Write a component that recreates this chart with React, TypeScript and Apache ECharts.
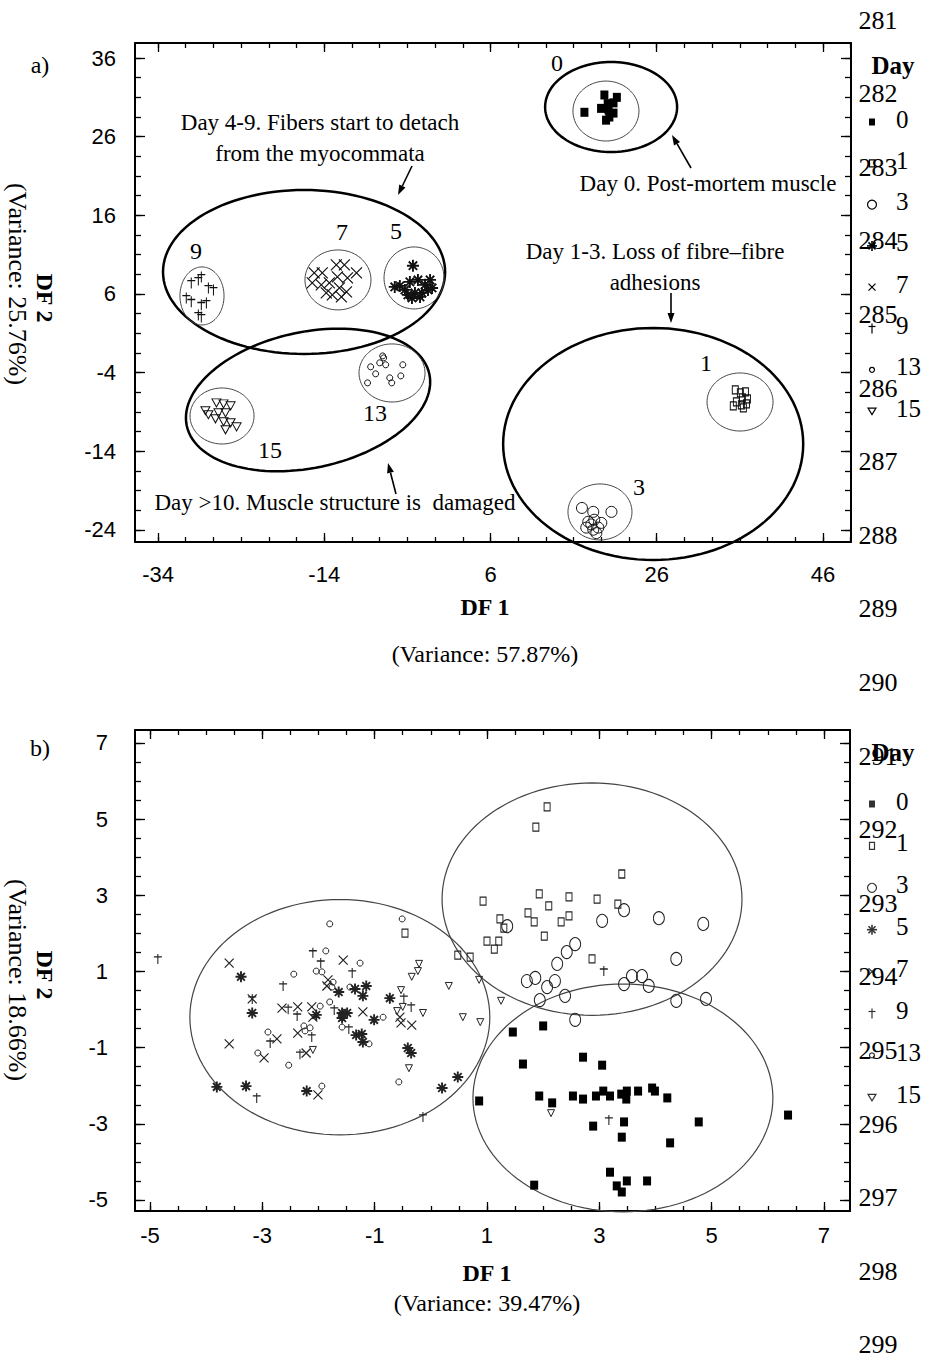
import React, { useEffect, useRef } from 'react';
import * as echarts from 'echarts';

const W = 929;
const H = 1360;

// ---------- tick labels ----------
const aXTicks = [-34, -14, 6, 26, 46];
const aYTicks = [36, 26, 16, 6, -4, -14, -24];
const bXTicks = [-5, -3, -1, 1, 3, 5, 7];
const bYTicks = [7, 5, 3, 1, -1, -3, -5];
const dayNames = ['0', '1', '3', '5', '7', '9', '13', '15'];
const lineNumbers = [281, 282, 283, 284, 285, 286, 287, 288, 289, 290, 291, 292, 293, 294, 295, 296, 297, 298, 299];

// ---------- panel a : discriminant scores ----------
const aDay0 = [[17.3, 29.1], [19.7, 31.3], [21.2, 31.0], [19.3, 29.6], [20.2, 29.4], [20.8, 30.3], [20.3, 28.5], [19.9, 28.1], [20.8, 29.0], [20.1, 30.2]];
const aDay1 = [[35.45, -6.19], [36.06, -6.57], [36.67, -6.44], [36.3, -7.2], [36.91, -7.33], [35.58, -7.71], [36.18, -8.09], [36.79, -7.96], [35.21, -8.22], [36.42, -8.47]];
const aDay3 = [[17.0, -21.2], [18.36, -21.7], [20.55, -21.7], [17.76, -22.96], [18.48, -22.7], [19.33, -23.1], [17.52, -23.7], [18.36, -23.97], [18.97, -23.7], [18.12, -23.3], [18.73, -24.4]];
const aDay5 = [[-5.52, 6.9], [-3.33, 9.6], [-3.7, 7.54], [-2.73, 7.79], [-1.88, 7.16], [-1.27, 7.79], [-4.3, 6.52], [-3.09, 6.14], [-2.24, 6.14], [-1.52, 6.52], [-3.45, 5.5], [-2.48, 5.63], [-1.03, 6.77], [-4.91, 7.03], [-3.94, 5.89]];
const aDay7 = [[-15.21, 8.68], [-14.24, 8.68], [-12.55, 9.7], [-11.58, 9.7], [-10.12, 8.68], [-15.45, 7.41], [-14.36, 7.16], [-13.39, 7.41], [-12.42, 8.17], [-11.21, 8.05], [-12.18, 6.77], [-13.03, 5.89], [-11.94, 5.63], [-11.33, 6.27], [-13.76, 6.14]];
const aDay9 = [[-30.0, 7.41], [-29.15, 7.79], [-28.79, 8.17], [-27.94, 6.77], [-27.33, 6.52], [-30.6, 5.5], [-30.0, 5.0], [-28.79, 4.62], [-28.18, 4.87], [-29.15, 3.34], [-28.79, 3.09]];
const aDay13 = [[-6.97, -1.87], [-6.85, -2.12], [-7.33, -2.75], [-6.61, -3.0], [-8.42, -3.26], [-7.82, -4.15], [-8.79, -5.3], [-6.12, -4.66], [-5.88, -5.3], [-4.79, -4.41], [-4.55, -3.0]];
const aDay15 = [[-26.97, -7.84], [-26.12, -7.97], [-25.27, -8.22], [-28.3, -8.85], [-27.94, -9.36], [-26.73, -9.11], [-25.88, -9.11], [-27.09, -9.87], [-26.12, -10.25], [-25.27, -10.38], [-24.55, -10.89], [-25.88, -11.27]];

// ellipses: [cx, cy, rx, ry, angleDeg]
const aOuterEllipses = [[20.51, 29.77, 7.94, 5.72, 0], [25.57, -13.07, 18.05, 14.75, 0], [-16.43, 8.8, 16.97, 10.42, 0], [-15.95, -7.47, 14.92, 8.64, 12]];
const aInnerEllipses = [[19.89, 29.26, 3.97, 3.81, 0], [36.02, -7.73, 3.97, 3.69, 0], [19.17, -21.71, 3.85, 3.56, 0], [-3.2, 8.04, 3.61, 3.94, 0], [-12.35, 7.79, 3.97, 3.81, 0], [-28.71, 5.75, 2.65, 3.69, 0], [-5.85, -4.04, 3.97, 3.69, 0], [-26.3, -9.51, 3.85, 3.56, 0]];

// ---------- panel b ----------
const bDay0 = [[1.46, -0.59], [2.0, -0.43], [1.64, -1.43], [2.71, -1.25], [3.05, -1.46], [0.86, -2.4], [1.93, -2.27], [2.16, -2.45], [2.53, -2.27], [2.71, -2.35], [2.94, -2.27], [3.07, -2.14], [3.19, -2.27], [3.39, -2.22], [3.49, -2.14], [3.48, -2.35], [3.69, -2.14], [3.94, -2.06], [3.99, -2.14], [4.21, -2.32], [2.89, -3.06], [3.44, -2.95], [3.4, -3.35], [4.77, -2.95], [6.36, -2.77], [4.26, -3.5], [3.19, -4.27], [3.31, -4.63], [3.49, -4.5], [3.4, -4.79], [3.85, -4.5], [1.84, -4.61]];
const bDay1 = [[2.07, 5.32], [1.87, 4.79], [3.4, 3.56], [0.93, 2.85], [1.93, 3.04], [2.46, 2.96], [2.96, 2.9], [3.33, 2.77], [2.1, 2.72], [1.23, 2.38], [1.3, 2.14], [1.73, 2.54], [1.84, 2.3], [2.32, 2.3], [2.46, 2.46], [2.02, 1.93], [1.0, 1.8], [1.21, 1.8], [1.13, 1.59], [0.48, 1.43], [0.7, 1.38], [2.87, 1.33], [-0.46, 2.01]];
const bDay3 = [[1.36, 2.19], [3.05, 2.33], [3.44, 2.61], [4.06, 2.4], [4.85, 2.25], [2.57, 1.72], [2.42, 1.51], [2.25, 1.2], [4.37, 1.33], [1.71, 0.75], [1.86, 0.83], [2.21, 0.75], [2.07, 0.59], [3.58, 0.88], [3.76, 0.88], [3.44, 0.67], [3.88, 0.62], [1.94, 0.25], [2.39, 0.36], [4.37, 0.23], [4.9, 0.28], [2.57, -0.27]];
const bDay5 = [[-3.38, 0.86], [-1.64, 0.46], [-1.35, 0.54], [-1.15, 0.62], [-1.21, 0.36], [-3.18, -0.09], [-2.04, -0.14], [-1.58, -0.09], [-1.49, -0.09], [-1.58, -0.22], [-1.01, -0.27], [-0.73, 0.3], [-1.33, -0.67], [-1.23, -0.64], [-1.21, -0.85], [-0.41, -1.01], [-0.35, -1.14], [-3.81, -2.03], [-3.29, -2.01], [-2.21, -2.14], [0.2, -2.06], [0.48, -1.77]];
const bDay7 = [[-3.59, 1.22], [-1.56, 1.3], [-1.83, 0.78], [-1.85, 0.62], [-3.18, 0.28], [-2.65, 0.04], [-2.37, 0.07], [-2.12, 0.07], [-2.1, -0.2], [-1.21, -0.06], [-0.55, -0.2], [-0.53, -0.35], [-0.34, -0.41], [-2.37, -0.62], [-2.74, -0.77], [-3.59, -0.9], [-2.97, -1.27], [-2.22, -1.14], [-2.01, -2.24]];
const bDay9 = [[-4.86, 1.33], [-2.63, 0.62], [-2.1, 1.49], [-1.96, 1.22], [-1.4, 0.96], [-3.18, 0.28], [-2.54, 0.01], [-2.38, -0.17], [-1.72, -0.01], [-0.48, 0.3], [-0.35, 0.07], [-1.46, -0.51], [-2.12, -0.72], [-2.86, -0.88], [-2.33, -1.17], [-3.1, -2.32], [-0.14, -2.82], [3.08, 1.01], [3.17, -2.9]];
const bDay13 = [[-2.44, 0.93], [-1.8, 2.25], [-0.51, 2.38], [-1.87, 1.54], [-1.26, 1.22], [-2.04, 1.01], [-1.94, 0.99], [-1.74, 0.72], [-1.76, 0.59], [-1.44, 0.59], [-1.97, 0.09], [-1.8, 0.2], [-0.85, -0.2], [-1.58, -0.46], [-1.1, -0.9], [-2.26, -0.43], [-2.24, -0.56], [-2.15, -0.48], [-2.9, -0.59], [-3.08, -1.14], [-2.53, -1.46], [-0.57, -1.9], [-1.94, -2.01]];
const bDay15 = [[-0.21, 1.2], [-0.23, 1.01], [-0.34, 0.86], [-0.53, 0.51], [-0.6, -0.04], [-0.5, 0.07], [-0.14, -0.09], [0.32, 0.62], [0.86, 0.78], [0.57, -0.2], [0.88, -0.33], [1.25, 0.23], [-0.39, -1.54], [-2.1, -1.06], [2.14, -2.72]];
const bEllipses = [[-1.62, -0.2, 2.67, 3.09, 0], [2.87, 2.9, 2.67, 3.05, 0], [3.42, -2.32, 2.67, 2.99, 0]];

const aSeriesData = [aDay0, aDay1, aDay3, aDay5, aDay7, aDay9, aDay13, aDay15];
const bSeriesData = [bDay0, bDay1, bDay3, bDay5, bDay7, bDay9, bDay13, bDay15];

const SERIF = '"Liberation Serif", "Times New Roman", serif';
const SANS = '"Liberation Sans", Arial, sans-serif';

const ASTER = 'path://M5,0L5,10M0,5L10,5M1.5,1.5L8.5,8.5M1.5,8.5L8.5,1.5';
const XMARK = 'path://M0,0L10,10M0,10L10,0';
const DAGGER = 'path://M5,0L5,12M1,3.5L9,3.5';
const TRI = 'path://M0,0L10,0L5,9Z';

type Sym = { symbol: string; a: number[]; b: number[]; filled?: boolean; bw: number };
const SYMS: Sym[] = [
  { symbol: 'rect', a: [8, 9], b: [8, 9], filled: true, bw: 0 },
  { symbol: 'rect', a: [6, 8], b: [6, 8], bw: 1.1 },
  { symbol: 'circle', a: [11, 11], b: [11, 13], bw: 1 },
  { symbol: ASTER, a: [12, 12], b: [11, 11], bw: 1.9 },
  { symbol: XMARK, a: [11, 11], b: [9, 9], bw: 1.2 },
  { symbol: DAGGER, a: [8, 11], b: [8, 10], bw: 1.2 },
  { symbol: 'circle', a: [6, 6], b: [6, 6], bw: 1 },
  { symbol: TRI, a: [9, 8], b: [7, 7], bw: 1 },
];

function range(min: number, max: number, step: number, anchor: number) {
  const out: number[] = [];
  let v = anchor + Math.ceil((min - anchor) / step) * step;
  for (; v <= max + 1e-9; v += step) out.push(+v.toFixed(4));
  return out;
}

function makeAxes(grid: number, xr: number[], yr: number[], xt: number[], yt: number[], xStep: number, yStep: number, xMargin: number, yMargin: number) {
  const xMinor = range(xr[0], xr[1], xStep, xt[0]);
  const yMinor = range(yr[0], yr[1], yStep, yt[0]);
  const line = { show: true, onZero: false, lineStyle: { color: '#000', width: 2 } };
  const noLine = { show: false, onZero: false };
  const lbl = (vals: number[], margin: number) => ({
    show: true, customValues: vals, margin, color: '#000', fontFamily: SANS, fontSize: 22,
  });
  const tick = (vals: number[], len: number) => ({ show: true, inside: true, length: len, customValues: vals, lineStyle: { color: '#000', width: 1.3 } });
  const base = { type: 'value', gridIndex: grid, splitLine: { show: false }, scale: false };
  const xAxes = [
    { ...base, min: xr[0], max: xr[1], position: 'bottom', axisLine: line, axisTick: tick(xt, 9), axisLabel: lbl(xt, xMargin) },
    { ...base, min: xr[0], max: xr[1], position: 'top', axisLine: line, axisTick: tick(xt, 9), axisLabel: { show: false } },
    { ...base, min: xr[0], max: xr[1], position: 'bottom', axisLine: noLine, axisTick: tick(xMinor, 5), axisLabel: { show: false } },
    { ...base, min: xr[0], max: xr[1], position: 'top', axisLine: noLine, axisTick: tick(xMinor, 5), axisLabel: { show: false } },
  ];
  const yAxes = [
    { ...base, min: yr[0], max: yr[1], position: 'left', axisLine: line, axisTick: tick(yt, 10), axisLabel: lbl(yt, yMargin) },
    { ...base, min: yr[0], max: yr[1], position: 'right', axisLine: line, axisTick: tick(yt, 10), axisLabel: { show: false } },
    { ...base, min: yr[0], max: yr[1], position: 'left', axisLine: noLine, axisTick: tick(yMinor, 6), axisLabel: { show: false } },
    { ...base, min: yr[0], max: yr[1], position: 'right', axisLine: noLine, axisTick: tick(yMinor, 6), axisLabel: { show: false } },
  ];
  return { xAxes, yAxes };
}

function ellipseSeries(data: number[][], axisIdx: number, color: string, lw: number) {
  return {
    type: 'custom',
    xAxisIndex: axisIdx,
    yAxisIndex: axisIdx,
    silent: true,
    clip: false,
    z: 1,
    data,
    renderItem: (_p: any, api: any) => {
      const c = api.coord([api.value(0), api.value(1)]);
      const s = api.size([api.value(2), api.value(3)], [api.value(0), api.value(1)]);
      const rx = s[0];
      const ry = s[1];
      const ang = (api.value(4) * Math.PI) / 180;
      const pts: number[][] = [];
      for (let i = 0; i < 120; i++) {
        const t = (i / 120) * Math.PI * 2;
        const ex = rx * Math.cos(t);
        const ey = ry * Math.sin(t);
        pts.push([c[0] + ex * Math.cos(ang) + ey * Math.sin(ang), c[1] - ex * Math.sin(ang) + ey * Math.cos(ang)]);
      }
      return { type: 'polygon', shape: { points: pts }, style: { fill: 'none', stroke: color, lineWidth: lw } };
    },
  };
}

function scatterSeries(panel: 'a' | 'b', axisIdx: number, datas: number[][][]) {
  return datas.map((d, i) => {
    const s = SYMS[i];
    return {
      type: 'scatter',
      name: dayNames[i],
      xAxisIndex: axisIdx,
      yAxisIndex: axisIdx,
      data: d,
      z: 3,
      symbol: s.symbol,
      symbolSize: panel === 'a' ? s.a : s.b,
      silent: true,
      itemStyle: s.filled
        ? { color: '#000', borderWidth: 0, opacity: 1 }
        : { color: 'rgba(0,0,0,0)', borderColor: panel === 'a' ? '#111' : '#222', borderWidth: s.bw, opacity: 1 },
    };
  });
}

function txt(text: string, x: number, y: number, size: number, opts: any = {}) {
  const font = `${opts.bold ? 'bold ' : ''}${size}px ${SERIF}`;
  const align = opts.align || 'center';
  return {
    type: 'text', x, y, rotation: opts.rot || 0, silent: true, z: 10,
    style: { text, fill: opts.color || '#000', font, align, textAlign: align, verticalAlign: 'middle', textVerticalAlign: 'middle' },
  };
}

function arrow(x1: number, y1: number, x2: number, y2: number) {
  const dx = x2 - x1;
  const dy = y2 - y1;
  const L = Math.hypot(dx, dy);
  const ux = dx / L;
  const uy = dy / L;
  const hl = 10;
  const hw = 3.5;
  const bx = x2 - ux * hl;
  const by = y2 - uy * hl;
  return [
    { type: 'line', silent: true, z: 10, shape: { x1, y1, x2: bx, y2: by }, style: { stroke: '#000', lineWidth: 1.6 } },
    { type: 'polygon', silent: true, z: 10, shape: { points: [[x2, y2], [bx - uy * hw, by + ux * hw], [bx + uy * hw, by - ux * hw]] }, style: { fill: '#000' } },
  ];
}

function marker(idx: number, cx: number, cy: number, c: string) {
  const ls = { stroke: c, lineWidth: 1.2, fill: 'none' };
  const L = (x1: number, y1: number, x2: number, y2: number, w = 1.2) => ({ type: 'line', silent: true, z: 10, shape: { x1, y1, x2, y2 }, style: { stroke: c, lineWidth: w } });
  switch (idx) {
    case 0: return [{ type: 'rect', silent: true, z: 10, shape: { x: cx - 3, y: cy - 3.5, width: 6, height: 7 }, style: { fill: c } }];
    case 1: return [{ type: 'rect', silent: true, z: 10, shape: { x: cx - 2.5, y: cy - 3.5, width: 5, height: 7 }, style: ls }];
    case 2: return [{ type: 'circle', silent: true, z: 10, shape: { cx, cy, r: 4.5 }, style: ls }];
    case 3: return [L(cx, cy - 5, cx, cy + 5, 1.6), L(cx - 5, cy, cx + 5, cy, 1.6), L(cx - 3.5, cy - 3.5, cx + 3.5, cy + 3.5, 1.6), L(cx - 3.5, cy + 3.5, cx + 3.5, cy - 3.5, 1.6)];
    case 4: return [L(cx - 3.5, cy - 3.5, cx + 3.5, cy + 3.5), L(cx - 3.5, cy + 3.5, cx + 3.5, cy - 3.5)];
    case 5: return [L(cx, cy - 5, cx, cy + 5), L(cx - 3.5, cy - 2, cx + 3.5, cy - 2)];
    case 6: return [{ type: 'circle', silent: true, z: 10, shape: { cx, cy, r: 2.5 }, style: ls }];
    default: return [{ type: 'polygon', silent: true, z: 10, shape: { points: [[cx - 4, cy - 3], [cx + 4, cy - 3], [cx, cy + 3.5]] }, style: ls }];
  }
}

function legend(y0: number, step: number, titleY: number, c: string) {
  const els: any[] = [txt('Day', 893, titleY, 25, { bold: true })];
  dayNames.forEach((d, i) => {
    const y = y0 + i * step;
    els.push(...marker(i, 872, y, c));
    els.push(txt(d, 896, y - 3, 25, { align: 'left' }));
  });
  return els;
}

function buildOption() {
  const aX = [-36.77, 49.37];
  const aY = [-25.53, 37.91];
  const bX = [-5.267, 7.463];
  const bY = [-5.289, 7.341];
  const A = makeAxes(0, aX, aY, aXTicks, aYTicks, 20 / 6, 2.5, 21, 19);
  const B = makeAxes(1, bX, bY, bXTicks, bYTicks, 0.5, 0.5, 13, 27);

  const graphic: any[] = [];
  // panel letters & axis titles
  graphic.push(txt('a)', 40, 65, 24));
  graphic.push(txt('b)', 40, 748, 24));
  graphic.push(txt('DF 1', 485, 607, 24, { bold: true }));
  graphic.push(txt('(Variance: 57.87%)', 485, 654, 24));
  graphic.push(txt('DF 2', 45, 298, 24, { bold: true, rot: -Math.PI / 2 }));
  graphic.push(txt('(Variance: 25.76%)', 17, 284, 26, { rot: -Math.PI / 2 }));
  graphic.push(txt('DF 1', 487, 1273, 24, { bold: true }));
  graphic.push(txt('(Variance: 39.47%)', 487, 1303, 24));
  graphic.push(txt('DF 2', 45, 975, 24, { bold: true, rot: -Math.PI / 2 }));
  graphic.push(txt('(Variance: 18.66%)', 17, 980, 26, { rot: -Math.PI / 2 }));

  // panel a annotations
  graphic.push(txt('Day 4-9. Fibers start to detach', 320, 122, 23));
  graphic.push(txt('from the myocommata', 320, 153, 23));
  graphic.push(txt('Day 0. Post-mortem muscle', 708, 183, 23));
  graphic.push(txt('Day 1-3. Loss of fibre\u2013fibre', 655, 251, 23));
  graphic.push(txt('adhesions', 655, 282, 23));
  graphic.push(txt('Day >10. Muscle structure is  damaged', 335, 502, 23));
  graphic.push(...arrow(412, 166, 398, 195));
  graphic.push(...arrow(691, 168, 672, 135));
  graphic.push(...arrow(671, 293, 671, 323));
  graphic.push(...arrow(396, 494, 388, 463));
  // cluster labels
  const clusterLabels: [string, number, number][] = [['0', 557, 63], ['9', 196, 251], ['7', 342, 232], ['5', 396, 231], ['13', 375, 413], ['15', 270, 450], ['1', 706, 363], ['3', 639, 487]];
  clusterLabels.forEach(([t, x, y]) => graphic.push(txt(t, x, y, 24)));

  // legends
  graphic.push(...legend(122, 41.3, 65, '#000'));
  graphic.push(...legend(804, 41.9, 752, '#333'));

  // manuscript line numbers
  lineNumbers.forEach((n, i) => graphic.push(txt(String(n), 878, 20 + i * 73.6, 26)));

  return {
    animation: false,
    backgroundColor: '#fff',
    grid: [
      { left: 135, top: 43, width: 716, height: 499, containLabel: false, outerBoundsMode: 'none' },
      { left: 135, top: 730, width: 715, height: 481, containLabel: false, outerBoundsMode: 'none' },
    ],
    xAxis: [...A.xAxes, ...B.xAxes],
    yAxis: [...A.yAxes, ...B.yAxes],
    series: [
      ellipseSeries(aOuterEllipses, 0, '#000', 2.5),
      ellipseSeries(aInnerEllipses, 0, '#444', 1),
      ...scatterSeries('a', 0, aSeriesData),
      ellipseSeries(bEllipses, 4, '#444', 1.2),
      ...scatterSeries('b', 4, bSeriesData),
    ],
    graphic,
  };
}

export default function App() {
  const ref = useRef<HTMLDivElement>(null);
  useEffect(() => {
    if (!ref.current) return;
    const chart = echarts.init(ref.current, null, { renderer: 'svg' });
    chart.setOption(buildOption() as any);
    return () => chart.dispose();
  }, []);
  return <div ref={ref} style={{ position: 'absolute', left: 0, top: 0, width: W, height: H, background: '#fff' }} />;
}
